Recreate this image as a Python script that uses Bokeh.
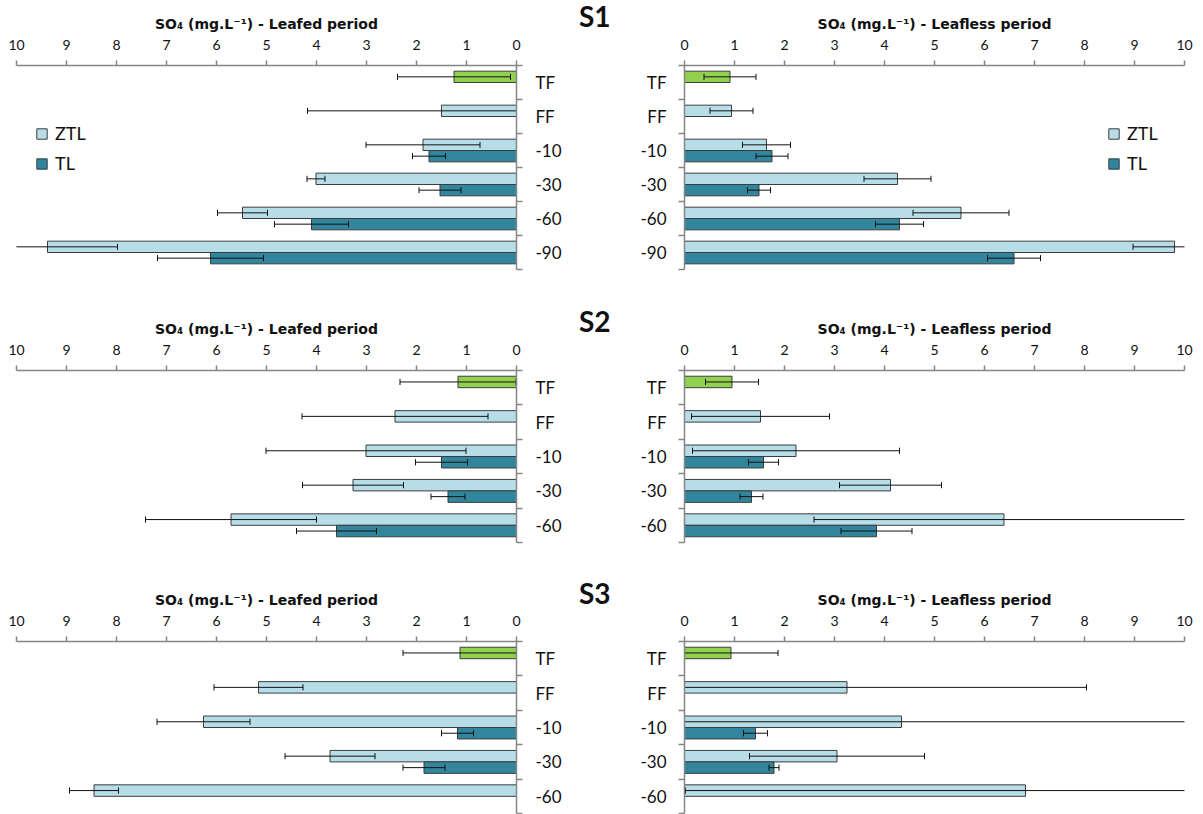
import math
from bokeh.plotting import figure
from bokeh.models import Range1d, FixedTicker, Legend, LegendItem, Div
from bokeh.layouts import column, row
from bokeh.embed import file_html
from bokeh.resources import INLINE

FONT = "Lato"
TFONT = "DejaVu Sans"
TXT = "#111111"
AXC = "#868686"
ZTL_C = "#B7DEE8"
TL_C = "#31859C"
TF_C = "#92D050"
OUT_C = "#3c3c3c"

# ---------------- data ----------------
cats_s1 = ["TF", "FF", "-10", "-30", "-60", "-90"]
cats_s23 = ["TF", "FF", "-10", "-30", "-60"]

# S1 leafed
s1_leafed_ztl = [1.25, 1.50, 1.87, 4.01, 5.48, 9.38]
s1_leafed_ztl_err = [1.13, 2.68, 1.14, 0.18, 0.50, 1.40]
s1_leafed_tl = [None, None, 1.75, 1.53, 4.10, 6.12]
s1_leafed_tl_err = [None, None, 0.33, 0.42, 0.74, 1.06]
# S1 leafless
s1_leafless_ztl = [0.91, 0.94, 1.64, 4.26, 5.53, 9.80]
s1_leafless_ztl_err = [0.52, 0.43, 0.48, 0.67, 0.96, 0.83]
s1_leafless_tl = [None, None, 1.75, 1.49, 4.30, 6.59]
s1_leafless_tl_err = [None, None, 0.32, 0.23, 0.48, 0.53]
# S2 leafed
s2_leafed_ztl = [1.17, 2.43, 3.01, 3.27, 5.71]
s2_leafed_ztl_err = [1.16, 1.86, 2.00, 1.01, 1.71]
s2_leafed_tl = [None, None, 1.50, 1.37, 3.60]
s2_leafed_tl_err = [None, None, 0.52, 0.34, 0.80]
# S2 leafless
s2_leafless_ztl = [0.95, 1.52, 2.23, 4.12, 6.39]
s2_leafless_ztl_err = [0.53, 1.38, 2.07, 1.02, 3.80]
s2_leafless_tl = [None, None, 1.58, 1.34, 3.84]
s2_leafless_tl_err = [None, None, 0.30, 0.23, 0.71]
# S3 leafed
s3_leafed_ztl = [1.13, 5.16, 6.26, 3.73, 8.45]
s3_leafed_ztl_err = [1.14, 0.89, 0.93, 0.90, 0.49]
s3_leafed_tl = [None, None, 1.18, 1.85, None]
s3_leafed_tl_err = [None, None, 0.32, 0.42, None]
# S3 leafless
s3_leafless_ztl = [0.93, 3.25, 4.34, 3.05, 6.82]
s3_leafless_ztl_err = [0.94, 4.79, 6.00, 1.75, 6.80]
s3_leafless_tl = [None, None, 1.42, 1.79, None]
s3_leafless_tl_err = [None, None, 0.24, 0.10, None]

x_ticks = list(range(0, 11))
title_leafed = "SO\u2084 (mg.L\u207b\u00b9) - Leafed period"
title_leafless = "SO\u2084 (mg.L\u207b\u00b9) - Leafless period"
sites = ["S1", "S2", "S3"]

CAP = 0.09
MID_W = 40


def panel(cats, ztl, ztl_err, tl, tl_err, side, title, top, frame_h, bottom,
          legend_xy=None):
    n = len(cats)
    if side == "left":
        xr = Range1d(10, 0)
        mbl, mbr, yloc = 16, 63, "right"
    else:
        xr = Range1d(0, 10)
        mbl, mbr, yloc = 65, 11, "left"
    p = figure(width=mbl + 500 + mbr, height=top + frame_h + bottom, x_range=xr,
               y_range=Range1d(0, n), x_axis_location="above", y_axis_location=yloc,
               toolbar_location=None, output_backend="svg",
               min_border_left=mbl, min_border_right=mbr,
               min_border_top=top, min_border_bottom=bottom)
    p.outline_line_color = None
    p.grid.visible = False
    p.background_fill_color = "white"
    p.border_fill_color = "white"

    centers = [n - 0.5 - i for i in range(n)]

    # ZTL (TF bar highlighted in green)
    zy = [c + 1 / 6 for c in centers]
    colors = [TF_C if c == "TF" else ZTL_C for c in cats]
    rz = p.hbar(y=zy, left=0, right=ztl, height=1 / 3, fill_color=colors,
                line_color=OUT_C, line_width=1)
    # TL
    ty, tv, te = [], [], []
    for c, v, e in zip(centers, tl, tl_err):
        if v is not None:
            ty.append(c - 1 / 6); tv.append(v); te.append(e)
    rt = p.hbar(y=ty, left=0, right=tv, height=1 / 3, fill_color=TL_C,
                line_color=OUT_C, line_width=1)

    # error bars
    ey = zy + ty
    ev = list(ztl) + tv
    ee = list(ztl_err) + te
    lo = [v - e for v, e in zip(ev, ee)]
    hi = [v + e for v, e in zip(ev, ee)]
    p.segment(x0=lo, x1=hi, y0=ey, y1=ey, line_color="#111111", line_width=1)
    p.segment(x0=lo, x1=lo, y0=[y - CAP for y in ey], y1=[y + CAP for y in ey],
              line_color="#111111", line_width=1)
    p.segment(x0=hi, x1=hi, y0=[y - CAP for y in ey], y1=[y + CAP for y in ey],
              line_color="#111111", line_width=1)

    # x axis (top)
    xa = p.xaxis[0]
    xa.ticker = FixedTicker(ticks=x_ticks)
    xa.axis_label = title
    xa.axis_label_text_font = TFONT
    xa.axis_label_text_font_style = "bold"
    xa.axis_label_text_font_size = "14px"
    xa.axis_label_text_color = TXT
    xa.axis_label_standoff = 5
    xa.major_label_text_font = FONT
    xa.major_label_text_font_size = "14px"
    xa.major_label_text_color = TXT
    xa.major_label_standoff = 11
    xa.axis_line_color = AXC
    xa.axis_line_width = 1.5
    xa.major_tick_line_color = AXC
    xa.major_tick_line_width = 1.5
    xa.major_tick_out = 5
    xa.major_tick_in = 0
    xa.minor_tick_line_color = None

    # y axis (categories, ticks between categories)
    ya = p.yaxis[0]
    ya.ticker = FixedTicker(ticks=centers, minor_ticks=list(range(0, n + 1)))
    ya.major_label_overrides = {c: lab for c, lab in zip(centers, cats)}
    ya.major_label_text_font = FONT
    ya.major_label_text_font_size = "17px"
    ya.major_label_text_color = TXT
    ya.major_label_standoff = 13 if side == "left" else 12
    ya.axis_line_color = AXC
    ya.axis_line_width = 1.5
    ya.major_tick_line_color = None
    ya.major_tick_out = 0
    ya.major_tick_in = 0
    ya.minor_tick_line_color = AXC
    ya.minor_tick_line_width = 1.5
    ya.minor_tick_out = 6
    ya.minor_tick_in = 0

    if legend_xy is not None:
        lg = Legend(items=[LegendItem(label="ZTL", renderers=[rz], index=1),
                           LegendItem(label="TL", renderers=[rt])],
                    location=legend_xy, orientation="vertical",
                    background_fill_alpha=0, border_line_color=None,
                    padding=0, margin=0, spacing=8, glyph_width=13, glyph_height=13,
                    label_text_font=FONT, label_text_font_size="18px",
                    label_text_color=TXT, label_standoff=7, label_height=22)
        p.add_layout(lg)
    return p


def site_label(site, height, pad_top):
    return Div(text=site, width=MID_W, height=height, margin=0,
               styles={"font-family": FONT, "font-weight": "bold", "font-size": "28px",
                       "line-height": "16px", "color": TXT,
                       "padding-top": f"{pad_top}px", "white-space": "nowrap",
                       "overflow": "visible"})


p1 = panel(cats_s1, s1_leafed_ztl, s1_leafed_ztl_err, s1_leafed_tl, s1_leafed_tl_err,
           "left", title_leafed, 65, 204, 44, legend_xy=(19, 95))
p2 = panel(cats_s1, s1_leafless_ztl, s1_leafless_ztl_err, s1_leafless_tl, s1_leafless_tl_err,
           "right", title_leafless, 65, 204, 44, legend_xy=(423, 95))
p3 = panel(cats_s23, s2_leafed_ztl, s2_leafed_ztl_err, s2_leafed_tl, s2_leafed_tl_err,
           "left", title_leafed, 57, 172, 42)
p4 = panel(cats_s23, s2_leafless_ztl, s2_leafless_ztl_err, s2_leafless_tl, s2_leafless_tl_err,
           "right", title_leafless, 57, 172, 42)
p5 = panel(cats_s23, s3_leafed_ztl, s3_leafed_ztl_err, s3_leafed_tl, s3_leafed_tl_err,
           "left", title_leafed, 57, 172, 1)
p6 = panel(cats_s23, s3_leafless_ztl, s3_leafless_ztl_err, s3_leafless_tl, s3_leafless_tl_err,
           "right", title_leafless, 57, 172, 1)

d1 = site_label(sites[0], 313, 8)
d2 = site_label(sites[1], 271, 0)
d3 = site_label(sites[2], 230, 1)

layout = column(row(p1, d1, p2), row(p3, d2, p4), row(p5, d3, p6))
open("out.html", "w").write(file_html(layout, INLINE))
